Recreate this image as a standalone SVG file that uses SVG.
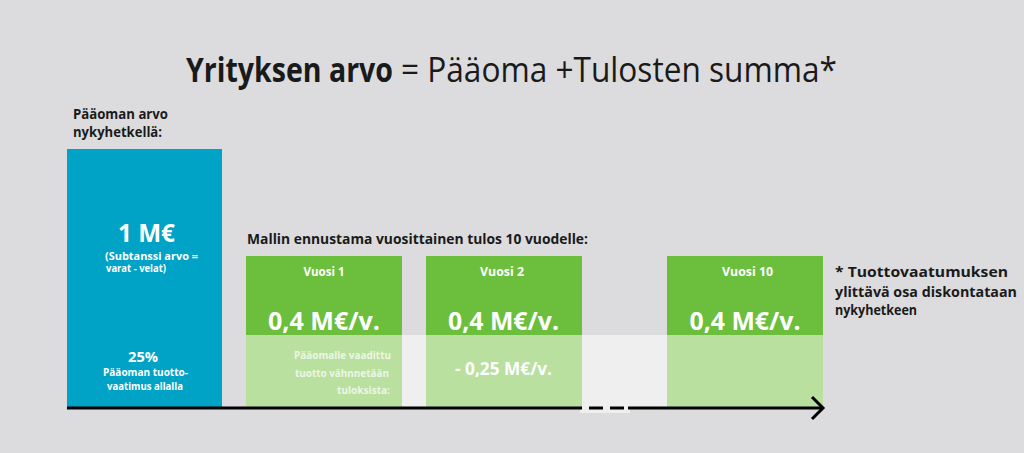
<svg xmlns="http://www.w3.org/2000/svg" width="1024" height="453" viewBox="0 0 1024 453">
<style>
text{font-family:"Open Sans","Liberation Sans",sans-serif;}
.b{font-weight:bold;}
.w{fill:#ffffff;}
.d{fill:#1a1a1a;}
.c{text-anchor:middle;}
.dk{fill:#6bbf3d;}
.lt{fill:#b9e09f;}
</style>
<rect x="0" y="0" width="1024" height="453" fill="#dcdcde"/>
<g id="title">
<text y="82" class="d" font-size="34"><tspan x="186" font-weight="bold" textLength="207" lengthAdjust="spacingAndGlyphs">Yrityksen arvo</tspan><tspan x="401" textLength="436" lengthAdjust="spacingAndGlyphs">= Pääoma +Tulosten summa*</tspan></text>
</g>
<g id="band">
<rect x="246" y="335" width="577" height="73" fill="#efefef"/>
<rect x="580" y="408" width="50" height="5" fill="#efefef"/>
</g>
<g id="capital">
<text x="73" y="119" class="b d" font-size="15" textLength="95" lengthAdjust="spacingAndGlyphs">Pääoman arvo</text>
<text x="73" y="137" class="b d" font-size="15" textLength="89" lengthAdjust="spacingAndGlyphs">nykyhetkellä:</text>
<rect x="67" y="149" width="155" height="259" fill="#00a3c6"/>
<text x="146.5" y="242" class="b w c" font-size="25" textLength="57" lengthAdjust="spacingAndGlyphs">1 M€</text>
<text class="b w" font-size="11"><tspan x="105" y="260" textLength="93" lengthAdjust="spacingAndGlyphs">(Subtanssi arvo =</tspan><tspan x="106" y="272" textLength="60" lengthAdjust="spacingAndGlyphs">varat - velat)</tspan></text>
<text x="143" y="362" class="b w c" font-size="14" textLength="30" lengthAdjust="spacingAndGlyphs">25%</text>
<text x="145.5" y="376" class="b w c" font-size="11" textLength="85" lengthAdjust="spacingAndGlyphs">Pääoman tuotto-</text>
<text x="145" y="390" class="b w c" font-size="11" textLength="76" lengthAdjust="spacingAndGlyphs">vaatimus allalla</text>
</g>
<text id="forecast-label" x="247" y="244" class="b d" font-size="14" textLength="341" lengthAdjust="spacingAndGlyphs">Mallin ennustama vuosittainen tulos 10 vuodelle:</text>
<g id="year1">
<rect x="246" y="256" width="156" height="79" class="dk"/>
<rect x="246" y="335" width="156" height="73" class="lt"/>
<text x="324" y="276" class="b w c" font-size="12" textLength="41" lengthAdjust="spacingAndGlyphs">Vuosi 1</text>
<text x="324" y="330" class="b w c" font-size="25" textLength="112" lengthAdjust="spacingAndGlyphs">0,4 M€/v.</text>
<text x="391" y="359" class="b" fill="#edf6e6" font-size="11" text-anchor="end" textLength="97" lengthAdjust="spacingAndGlyphs">Pääomalle vaadittu</text>
<text x="389" y="377" class="b" fill="#edf6e6" font-size="11" text-anchor="end" textLength="94" lengthAdjust="spacingAndGlyphs">tuotto vähnnetään</text>
<text x="390" y="394" class="b" fill="#edf6e6" font-size="11" text-anchor="end" textLength="53" lengthAdjust="spacingAndGlyphs">tuloksista:</text>
</g>
<g id="year2">
<rect x="426" y="256" width="156" height="79" class="dk"/>
<rect x="426" y="335" width="156" height="73" class="lt"/>
<text x="502" y="276" class="b w c" font-size="12" textLength="44" lengthAdjust="spacingAndGlyphs">Vuosi 2</text>
<text x="503.5" y="330" class="b w c" font-size="25" textLength="111" lengthAdjust="spacingAndGlyphs">0,4 M€/v.</text>
<text x="503.5" y="375" class="b w c" font-size="17" textLength="97" lengthAdjust="spacingAndGlyphs">- 0,25 M€/v.</text>
</g>
<g id="year10">
<rect x="667" y="256" width="156" height="79" class="dk"/>
<rect x="667" y="335" width="156" height="73" class="lt"/>
<text x="747.5" y="276" class="b w c" font-size="12" textLength="51" lengthAdjust="spacingAndGlyphs">Vuosi 10</text>
<text x="745" y="330" class="b w c" font-size="25" textLength="111" lengthAdjust="spacingAndGlyphs">0,4 M€/v.</text>
</g>
<g id="note">
<text x="835" y="277" class="b d" font-size="14" textLength="173" lengthAdjust="spacingAndGlyphs">* Tuottovaatumuksen</text>
<text x="835" y="297" class="b d" font-size="14" textLength="182" lengthAdjust="spacingAndGlyphs">ylittävä osa diskontataan</text>
<text x="835" y="315" class="b d" font-size="14" textLength="82" lengthAdjust="spacingAndGlyphs">nykyhetkeen</text>
</g>
<g id="connectors" stroke="#000000" stroke-width="3" fill="none">
<line x1="67" y1="408" x2="582" y2="408"/>
<line x1="589" y1="408" x2="603" y2="408"/>
<line x1="610" y1="408" x2="624" y2="408"/>
<line x1="628" y1="408" x2="822" y2="408"/>
<polyline points="812,397 823,408 812,419" stroke-linejoin="miter"/>
</g>
</svg>
